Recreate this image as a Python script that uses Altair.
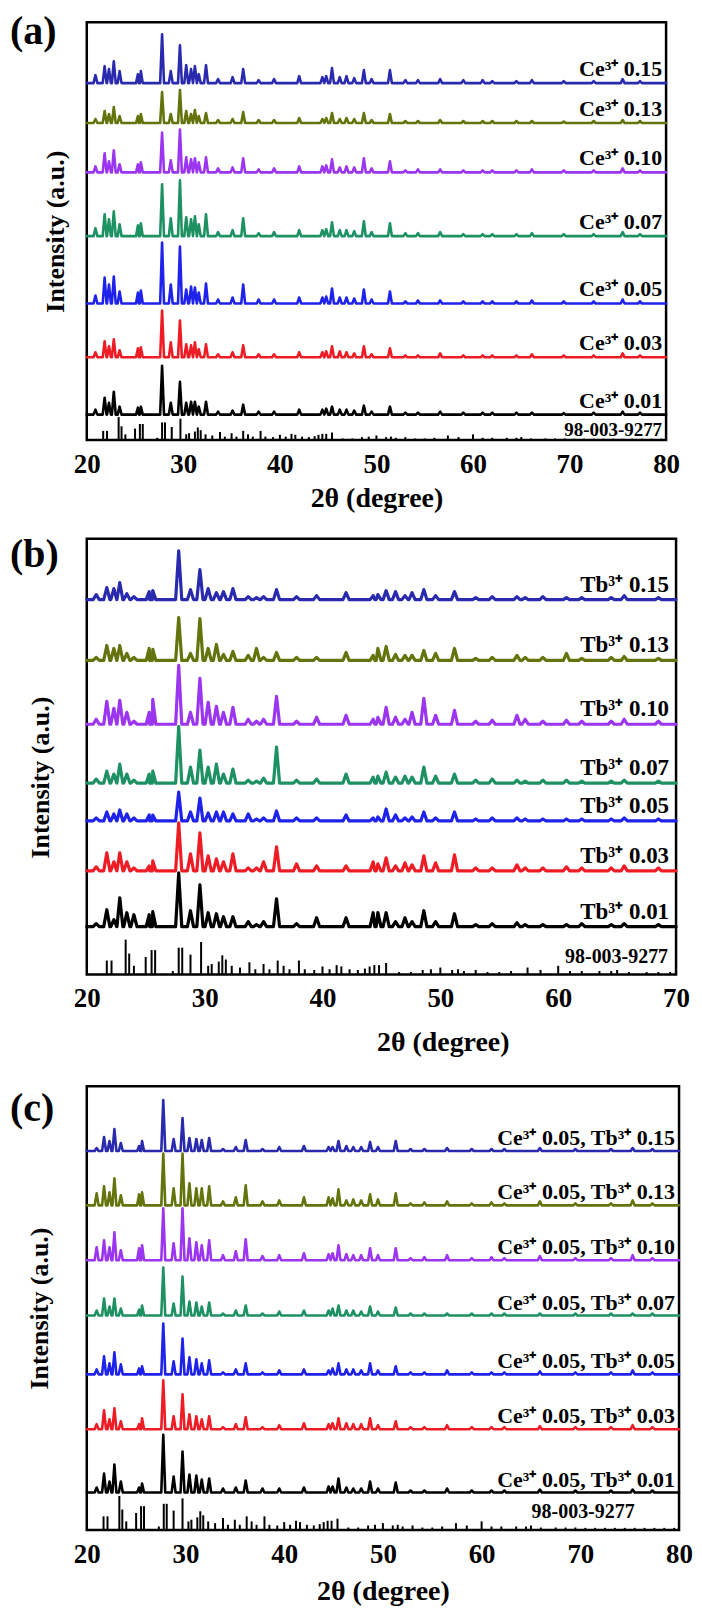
import altair as alt
import pandas as pd

FONT = "Liberation Serif"
COLORS = ["#000000", "#ee1c25", "#1f22ea", "#1e9163", "#9b35f0", "#64730b", "#2a2aae"]

# ---------------- reference card 98-003-9277 (relative intensities, %) ----------------
REF_POS = [21.7, 22.1, 23.3, 23.6, 24.0, 25.0, 25.5, 25.8, 27.3, 27.8, 28.1, 28.8, 29.7, 30.3, 30.6,
           31.2, 31.5, 31.8, 32.3, 33.0, 33.8, 34.3, 35.0, 35.5, 36.2, 36.7, 37.2, 38.0, 38.5, 39.3,
           40.0, 40.6, 41.2, 41.6, 42.3, 43.0, 43.6, 44.0, 44.4, 44.8, 45.4, 46.5, 47.5, 48.5, 49.2,
           50.0, 51.0, 51.5, 52.0, 53.0, 54.0, 55.0, 56.0, 57.4, 58.5, 60.0, 61.0, 62.0, 63.5, 64.5,
           65.0, 66.0, 67.5, 68.5, 69.5, 70.5, 71.5, 72.5, 73.5, 74.5, 75.5, 76.5, 77.5, 78.5, 79.5]
REF_INT = [40, 40, 100, 60, 25, 50, 70, 70, 10, 77, 77, 57, 93, 25, 30,
           37, 55, 43, 25, 20, 35, 15, 30, 15, 40, 25, 15, 40, 15, 13,
           23, 15, 27, 23, 15, 13, 17, 23, 27, 27, 33, 7, 7, 13, 15,
           20, 13, 15, 10, 13, 7, 7, 10, 20, 13, 25, 10, 10, 10, 10,
           13, 7, 7, 7, 7, 6, 6, 6, 6, 6, 6, 6, 6, 6, 6]
REF_NAME = "98-003-9277"

# ---------------- panel (a): Ce3+ series ----------------
A_PEAKS = [20.9, 21.85, 22.3, 22.8, 23.4, 25.3, 25.6, 27.8, 28.7, 29.65, 30.3, 30.8, 31.2, 31.6, 32.35,
           33.6, 35.1, 36.2, 37.8, 39.4, 42.0, 44.4, 44.8, 45.4, 46.2, 46.9, 47.7, 48.7, 49.5, 51.4,
           53.0, 54.3, 56.6, 59.0, 61.0, 62.0, 64.5, 66.1, 69.4, 72.5, 75.5, 77.3]
A_LABELS = ["Ce³⁺ 0.01", "Ce³⁺ 0.03", "Ce³⁺ 0.05", "Ce³⁺ 0.07", "Ce³⁺ 0.10", "Ce³⁺ 0.13", "Ce³⁺ 0.15"]
A_OFFSETS = [25.5, 83, 137, 204.5, 268.5, 318, 358]
A_CE001 = [5, 17, 12, 23, 8, 7, 8, 49, 12, 33, 12, 13, 13, 8, 13, 3, 4, 10, 3, 3, 5, 5, 6, 8, 5, 5, 4, 9, 3, 8, 2, 2, 3, 2, 2, 2, 2, 2, 1.5, 2, 3, 2]
A_CE003 = [5, 16, 11, 18, 7, 9, 10, 47, 15, 37, 13, 12, 15, 8, 13, 3, 5, 12, 3, 3, 5, 5, 6, 11, 6, 5, 4, 11, 3, 9, 2, 2, 4, 2, 2, 2, 2, 3, 2, 2, 4, 2]
A_CE005 = [8, 26, 19, 27, 12, 11, 13, 61, 19, 57, 14, 17, 16, 11, 20, 4, 6, 19, 4, 4, 6, 6, 7, 15, 6, 6, 5, 14, 4, 12, 2, 3, 3, 2, 2, 2, 2, 3, 2, 2, 4, 2]
A_CE007 = [8, 22, 17, 25, 12, 11, 13, 52, 18, 56, 19, 17, 20, 12, 22, 4, 6, 18, 3, 4, 6, 6, 7, 14, 6, 6, 5, 15, 4, 13, 3, 3, 4, 2, 2, 2, 2, 3, 2, 2, 4, 2]
A_CE010 = [6, 19, 11, 22, 8, 8, 10, 40, 12, 43, 15, 13, 14, 10, 15, 4, 5, 14, 3, 4, 6, 6, 7, 13, 5, 6, 5, 14, 4, 11, 2, 3, 3, 2, 2, 2, 2, 3, 2, 2, 4, 2]
A_CE013 = [4, 12, 9, 16, 7, 7, 9, 31, 9, 33, 12, 9, 13, 7, 10, 3, 4, 11, 3, 3, 5, 4, 5, 10, 4, 5, 4, 10, 3, 9, 2, 2, 3, 2, 2, 2, 2, 2, 1.5, 2, 3, 2]
A_CE015 = [8, 17, 14, 22, 12, 9, 12, 49, 12, 38, 18, 14, 17, 9, 18, 4, 6, 14, 3, 4, 7, 6, 7, 15, 6, 7, 5, 13, 4, 13, 3, 3, 4, 3, 3, 2, 2, 3, 2, 2, 4, 2]

# ---------------- panel (b): Tb3+ series ----------------
B_PEAKS = [20.8, 21.7, 22.3, 22.8, 23.4, 24.0, 25.3, 25.6, 27.8, 28.8, 29.6, 30.3, 31.0, 31.6, 32.4,
           33.7, 34.4, 35.0, 36.1, 37.8, 39.5, 42.0, 44.3, 44.7, 45.4, 46.2, 47.0, 47.6, 48.6, 49.6,
           51.2, 53.0, 54.4, 56.5, 57.2, 58.7, 60.7, 62.0, 64.5, 65.6, 68.5]
B_LABELS = ["Tb³⁺ 0.01", "Tb³⁺ 0.03", "Tb³⁺ 0.05", "Tb³⁺ 0.07", "Tb³⁺ 0.10", "Tb³⁺ 0.13", "Tb³⁺ 0.15"]
B_OFFSETS = [48, 104, 154, 192, 251, 315, 376]
B_TB001 = [3, 17, 7, 29, 14, 12, 12, 15, 54, 16, 42, 14, 13, 10, 10, 5, 2, 5, 28, 3, 9, 9, 14, 14, 14, 5, 9, 5, 16, 5, 13, 2, 3, 4, 2, 2, 2, 3, 2, 3, 2]
B_TB003 = [4, 18, 9, 18, 9, 3, 5, 10, 48, 17, 38, 15, 12, 9, 17, 3, 3, 9, 24, 7, 5, 5, 9, 7, 13, 5, 8, 6, 15, 8, 16, 3, 3, 6, 3, 3, 4, 3, 3, 5, 3]
B_TB005 = [3, 9, 7, 11, 7, 3, 6, 6, 29, 9, 23, 8, 9, 9, 7, 7, 2, 3, 10, 3, 3, 6, 3, 4, 12, 6, 3, 4, 9, 3, 9, 2, 3, 3, 2, 2, 2, 2, 2, 3, 2]
B_TB007 = [4, 12, 9, 19, 9, 3, 9, 12, 57, 16, 33, 16, 19, 9, 14, 3, 2, 5, 36, 3, 4, 9, 6, 7, 11, 6, 7, 6, 16, 7, 9, 3, 4, 3, 2, 3, 3, 2, 2, 3, 2]
B_TB010 = [5, 23, 16, 24, 12, 3, 12, 25, 59, 12, 46, 22, 18, 12, 17, 5, 3, 5, 28, 3, 7, 9, 5, 7, 17, 7, 5, 12, 26, 9, 14, 3, 4, 9, 5, 3, 4, 3, 3, 5, 3]
B_TB013 = [3, 15, 12, 15, 7, 3, 12, 11, 43, 7, 42, 12, 16, 6, 9, 5, 12, 3, 8, 3, 3, 8, 5, 12, 14, 6, 5, 5, 10, 7, 12, 2, 3, 5, 3, 3, 7, 2, 3, 4, 2]
B_TB015 = [5, 12, 11, 17, 6, 3, 8, 9, 49, 10, 30, 11, 7, 8, 11, 3, 2, 3, 10, 3, 4, 7, 4, 5, 9, 8, 4, 7, 10, 4, 8, 2, 3, 3, 2, 3, 2, 2, 2, 4, 2]

# ---------------- panel (c): Ce3+ 0.05, Tb3+ series ----------------
C_PEAKS = [21.0, 21.75, 22.3, 22.8, 23.45, 25.3, 25.6, 27.75, 28.8, 29.7, 30.4, 31.1, 31.65, 32.4,
           33.8, 35.1, 36.1, 37.8, 39.5, 42.0, 44.5, 44.9, 45.5, 46.3, 47.0, 47.8, 48.7, 49.5, 51.3,
           52.8, 54.2, 56.5, 59.0, 61.0, 62.3, 65.9, 69.5, 73.1, 75.3, 77.3]
C_LABELS = ["Ce³⁺ 0.05, Tb³⁺ 0.01", "Ce³⁺ 0.05, Tb³⁺ 0.03", "Ce³⁺ 0.05, Tb³⁺ 0.05", "Ce³⁺ 0.05, Tb³⁺ 0.07",
            "Ce³⁺ 0.05, Tb³⁺ 0.10", "Ce³⁺ 0.05, Tb³⁺ 0.13", "Ce³⁺ 0.05, Tb³⁺ 0.15"]
C_OFFSETS = [37.5, 101, 156, 215, 270.5, 325.5, 380]
C_TB001 = [5, 19, 11, 28, 11, 5, 9, 58, 16, 41, 18, 17, 13, 14, 4, 5, 12, 4, 4, 5, 6, 6, 14, 5, 4, 4, 11, 4, 10, 2, 2, 4, 2, 2, 2, 3, 2, 2, 3, 2]
C_TB003 = [5, 19, 10, 21, 8, 5, 11, 49, 13, 35, 15, 13, 10, 13, 2, 5, 12, 2, 4, 6, 5, 6, 11, 6, 5, 5, 11, 4, 8, 2, 2, 4, 2, 2, 2, 3, 2, 2, 4, 2]
C_TB005 = [5, 18, 11, 22, 10, 6, 8, 51, 13, 36, 17, 15, 11, 14, 2, 5, 11, 2, 4, 5, 4, 6, 11, 5, 5, 4, 11, 4, 8, 2, 2, 4, 2, 2, 2, 3, 2, 2, 4, 2]
C_TB007 = [5, 17, 9, 17, 7, 6, 10, 48, 12, 39, 14, 13, 9, 13, 2, 5, 10, 2, 4, 5, 5, 7, 10, 5, 5, 4, 9, 4, 8, 2, 2, 2, 2, 2, 2, 2, 2, 2, 2, 2]
C_TB010 = [13, 20, 13, 28, 10, 12, 15, 52, 17, 52, 22, 18, 15, 20, 5, 9, 21, 4, 5, 7, 6, 7, 15, 6, 5, 5, 12, 5, 12, 2, 3, 5, 2, 3, 2, 4, 2, 2, 5, 2]
C_TB013 = [12, 19, 13, 27, 10, 11, 13, 52, 17, 52, 22, 17, 17, 19, 4, 8, 20, 4, 5, 8, 8, 7, 16, 5, 6, 5, 11, 6, 12, 2, 3, 4, 2, 3, 2, 4, 2, 2, 5, 2]
C_TB015 = [3, 14, 10, 22, 8, 5, 10, 51, 12, 33, 13, 12, 11, 13, 2, 4, 11, 2, 4, 5, 4, 4, 10, 5, 4, 4, 9, 4, 10, 2, 2, 3, 2, 2, 2, 3, 2, 2, 3, 2]


def trace_rows(peaks, heights, base, hw, xmax, color, key):
    pts = [(20.0, base), (float(xmax), base)]
    for p, h in zip(peaks, heights):
        if 20 < p < xmax:
            pts += [(p - hw, base), (p, base + h), (p + hw, base)]
    pts.sort()
    return [{"x": x, "y": y, "c": color, "k": key} for x, y in pts]


def panel(o):
    xmax, W, H = o["xmax"], o["W"], o["H"]
    xs = alt.Scale(domain=[20, xmax], nice=False, zero=False)
    ys = alt.Scale(domain=[0, H], nice=False, zero=False)
    xaxis = dict(values=list(range(20, xmax + 1, 10)), ticks=False, domain=False, grid=False,
                 labelFont=FONT, labelFontWeight="bold", labelFontSize=27, labelColor="black",
                 labelPadding=o["lab_pad"], labelFlush=False, labelOverlap=False,
                 title="2θ (degree)", titleFont=FONT, titleFontSize=28, titleFontWeight="bold",
                 titleColor="black", titlePadding=o["xt_pad"])
    if o.get("xt_x") is not None:
        xaxis["titleX"] = o["xt_x"]
    yaxis = dict(labels=False, ticks=False, domain=False, grid=False, title="Intensity (a.u.)",
                 titleFont=FONT, titleFontSize=26, titleFontWeight="bold", titleColor="black",
                 titlePadding=o["yt_pad"])
    if o.get("yt_y") is not None:
        yaxis["titleY"] = o["yt_y"]
    X = alt.X("x:Q", scale=xs, axis=alt.Axis(**xaxis))

    rows = []
    for i, (hs, b) in enumerate(zip(o["series"], o["offsets"])):
        rows += trace_rows(o["peaks"], hs, b, o["hw"], xmax, COLORS[i], i)
    lines = alt.Chart(pd.DataFrame(rows)).mark_line(
        strokeWidth=o["sw"], strokeJoin="round", strokeCap="round"
    ).encode(
        x=X,
        y=alt.Y("y:Q", scale=ys, axis=alt.Axis(**yaxis)),
        color=alt.Color("c:N", scale=None),
        detail="k:N",
        order="x:Q",
    )

    ref = pd.DataFrame([{"x": p, "y0": 0.0, "y1": r * o["ref_scale"]}
                        for p, r in zip(REF_POS, REF_INT) if p < xmax])
    sticks = alt.Chart(ref).mark_rule(color="black", strokeWidth=2).encode(
        x=X, y=alt.Y("y0:Q", scale=ys, axis=alt.Axis(**yaxis)), y2="y1:Q")

    lab = pd.DataFrame({"x": [xmax] * len(o["labels"]), "y": o["offsets"], "t": o["labels"]})
    labels = alt.Chart(lab).mark_text(
        align="right", baseline="alphabetic", dx=o["lab_dx"], dy=o["lab_dy"], font=FONT,
        fontWeight="bold", fontSize=o["lab_size"], color="black"
    ).encode(x=X, y=alt.Y("y:Q", scale=ys, axis=alt.Axis(**yaxis)), text="t:N")

    rl = pd.DataFrame({"x": [o["ref_x"]], "y": [0.0], "t": [REF_NAME]})
    reflab = alt.Chart(rl).mark_text(
        align="right", baseline="alphabetic", dx=o["ref_dx"], dy=o["ref_dy"], font=FONT,
        fontWeight="bold", fontSize=o["ref_size"], color="black"
    ).encode(x=X, y=alt.Y("y:Q", scale=ys, axis=alt.Axis(**yaxis)), text="t:N")

    tag = alt.Chart(pd.DataFrame({"t": [o["tag"]]})).mark_text(
        align="left", baseline="top", font=FONT, fontWeight="bold", fontSize=40, color="black"
    ).encode(x=alt.value(-77), y=alt.value(o["tag_y"]), text="t:N")

    return alt.layer(lines, sticks, labels, reflab, tag).properties(width=W, height=H)


pa = panel(dict(tag="(a)", tag_y=-10, xmax=80, W=581, H=419,
                peaks=A_PEAKS, labels=A_LABELS, offsets=A_OFFSETS,
                series=[A_CE001, A_CE003, A_CE005, A_CE007, A_CE010, A_CE013, A_CE015],
                hw=0.2, sw=2.6, lab_size=22, lab_dx=-4, lab_dy=-7,
                ref_scale=0.23, ref_x=80, ref_dx=-4, ref_dy=-4, ref_size=19,
                lab_pad=12, xt_pad=7, yt_pad=18))
pb = panel(dict(tag="(b)", tag_y=-4, xmax=70, W=591, H=437,
                peaks=B_PEAKS, labels=B_LABELS, offsets=B_OFFSETS,
                series=[B_TB001, B_TB003, B_TB005, B_TB007, B_TB010, B_TB013, B_TB015],
                hw=0.26, sw=3.2, lab_size=23, lab_dx=-7, lab_dy=-8,
                ref_scale=0.35, ref_x=70, ref_dx=-8, ref_dy=-12, ref_size=20,
                lab_pad=11, xt_pad=17, yt_pad=33, xt_x=357, yt_y=239))
pc = panel(dict(tag="(c)", tag_y=2.6, xmax=80, W=594, H=445,
                peaks=C_PEAKS, labels=C_LABELS, offsets=C_OFFSETS,
                series=[C_TB001, C_TB003, C_TB005, C_TB007, C_TB010, C_TB013, C_TB015],
                hw=0.2, sw=2.6, lab_size=22, lab_dx=-4, lab_dy=-6,
                ref_scale=0.34, ref_x=75.5, ref_dx=0, ref_dy=-12, ref_size=20,
                lab_pad=12, xt_pad=10, yt_pad=34))

top = alt.vconcat(pa, pb, spacing=18)
chart = alt.vconcat(top, pc, spacing=26).properties(
    padding={"left": 0, "top": 0, "right": 0, "bottom": 0},
    background="white",
).configure_view(stroke="black", strokeWidth=2.5)

chart.save("out.html", embed_options={"renderer": "svg", "actions": False})
